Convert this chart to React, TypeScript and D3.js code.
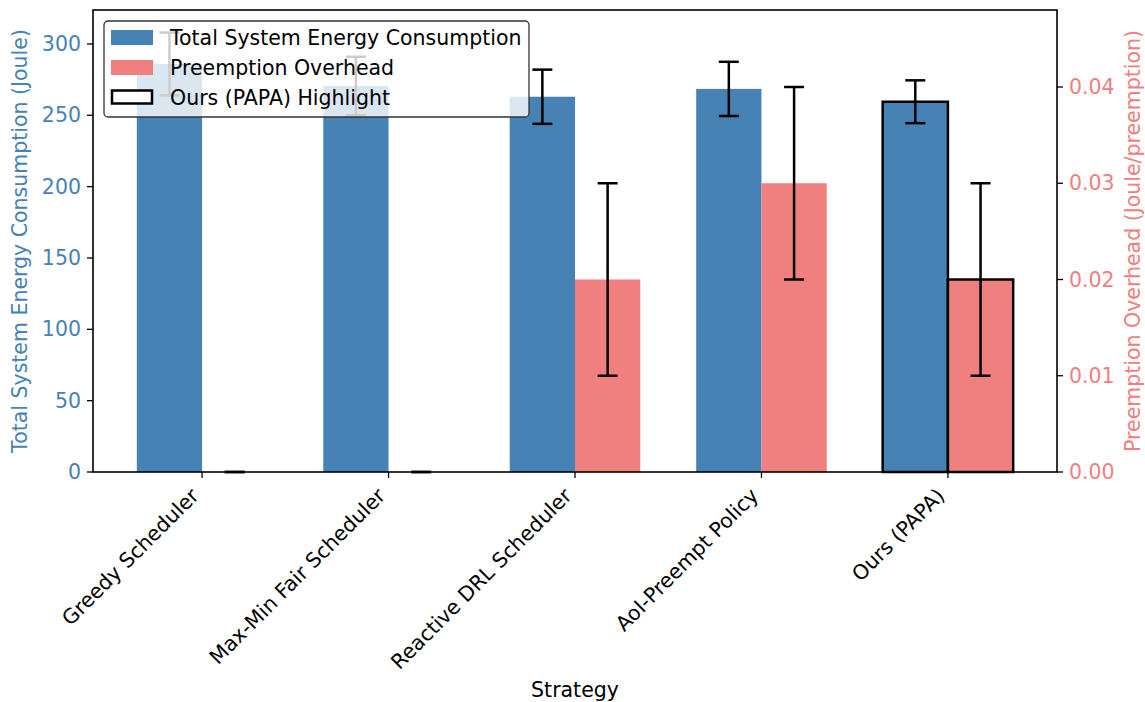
import React from "react";
import * as d3 from "d3";

const categories = ["Greedy Scheduler", "Max-Min Fair Scheduler", "Reactive DRL Scheduler", "AoI-Preempt Policy", "Ours (PAPA)"];
const energyValues = [286, 270.5, 263, 268.5, 259.5];
const energyErrors = [22, 20.5, 19, 19, 15];
const overheadValues = [0, 0, 0.02, 0.03, 0.02];
const overheadErrors = [0, 0, 0.01, 0.01, 0.01];
const leftTicks = [0, 50, 100, 150, 200, 250, 300];
const rightTicks = [0, 0.01, 0.02, 0.03, 0.04];
const highlightIndex = 4;

const W = 1145, H = 702;
const M = { left: 93, right: 1057, top: 10, bottom: 472 };
const BLUE = "#4682B4";
const RED = "#F08080";
const FONT = "DejaVu Sans, sans-serif";
const FS = 20.5;

export default function App() {
  const x = d3.scaleLinear().domain([-0.585, 4.585]).range([M.left, M.right]);
  const yL = d3.scaleLinear().domain([0, 323.8]).range([M.bottom, M.top]);
  const yR = d3.scaleLinear().domain([0, 0.048]).range([M.bottom, M.top]);
  const bw = 0.35;
  const bpx = x(bw) - x(0);
  const cap = 10;

  const errBar = (cx: number, v: number, e: number, y: d3.ScaleLinear<number, number>, key: string) => (
    <g key={key} stroke="#000" strokeWidth={2.5}>
      <line x1={cx} x2={cx} y1={y(v - e)} y2={y(v + e)} />
      <line x1={cx - cap} x2={cx + cap} y1={y(v - e)} y2={y(v - e)} />
      <line x1={cx - cap} x2={cx + cap} y1={y(v + e)} y2={y(v + e)} />
    </g>
  );

  return (
    <svg width={W} height={H} style={{ position: "absolute", left: 0, top: 0, background: "#fff" }} fontFamily={FONT}>
      {categories.map((c, i) => {
        const bx = x(i - bw / 2);
        const rx = x(i + bw / 2);
        const hl = i === highlightIndex;
        return (
          <g key={c}>
            <rect x={bx - bpx / 2} y={yL(energyValues[i])} width={bpx} height={yL(0) - yL(energyValues[i])} fill={BLUE}
              stroke={hl ? "#000" : "none"} strokeWidth={hl ? 2.5 : 0} />
            <rect x={rx - bpx / 2} y={yR(overheadValues[i])} width={bpx} height={yR(0) - yR(overheadValues[i])} fill={RED}
              stroke={hl ? "#000" : "none"} strokeWidth={hl ? 2.5 : 0} />
          </g>
        );
      })}
      {categories.map((c, i) => errBar(x(i - bw / 2), energyValues[i], energyErrors[i], yL, "eb" + i))}
      {categories.map((c, i) => errBar(x(i + bw / 2), overheadValues[i], overheadErrors[i], yR, "er" + i))}

      {/* frame */}
      <rect x={M.left} y={M.top} width={M.right - M.left} height={M.bottom - M.top} fill="none" stroke="#000" strokeWidth={1.6} />

      {/* left axis */}
      {leftTicks.map((t) => (
        <g key={"l" + t}>
          <line x1={M.left - 6} x2={M.left} y1={yL(t)} y2={yL(t)} stroke="#000" strokeWidth={1.3} />
          <text x={M.left - 12} y={yL(t)} dy="0.35em" textAnchor="end" fontSize={FS} fill={BLUE}>{t}</text>
        </g>
      ))}
      <text transform={`translate(27,${(M.top + M.bottom) / 2}) rotate(-90)`} textAnchor="middle" fontSize={FS} fill={BLUE}>
        Total System Energy Consumption (Joule)
      </text>

      {/* right axis */}
      {rightTicks.map((t) => (
        <g key={"r" + t}>
          <line x1={M.right} x2={M.right + 6} y1={yR(t)} y2={yR(t)} stroke="#000" strokeWidth={1.3} />
          <text x={M.right + 12} y={yR(t)} dy="0.35em" textAnchor="start" fontSize={FS} fill={RED}>{t.toFixed(2)}</text>
        </g>
      ))}
      <text transform={`translate(1140,${(M.top + M.bottom) / 2}) rotate(-90)`} textAnchor="middle" fontSize={FS} fill={RED}>
        Preemption Overhead (Joule/preemption)
      </text>

      {/* x axis */}
      {categories.map((c, i) => (
        <g key={"x" + i}>
          <line x1={x(i)} x2={x(i)} y1={M.bottom} y2={M.bottom + 6} stroke="#000" strokeWidth={1.3} />
          <text transform={`translate(${x(i) - 2},${M.bottom + 25}) rotate(-45)`} textAnchor="end" fontSize={FS} fill="#000">{c}</text>
        </g>
      ))}
      <text x={(M.left + M.right) / 2} y={697} textAnchor="middle" fontSize={FS} fill="#000">Strategy</text>

      {/* legend */}
      <g>
        <rect x={104} y={21} width={425} height={96} rx={4} fill="#fff" fillOpacity={0.8} stroke="#333" strokeWidth={1.3} />
        <rect x={111} y={30} width={42} height={15} fill={BLUE} />
        <text x={170} y={37.5} dy="0.35em" fontSize={FS}>Total System Energy Consumption</text>
        <rect x={111} y={60} width={42} height={15} fill={RED} />
        <text x={170} y={67.5} dy="0.35em" fontSize={FS}>Preemption Overhead</text>
        <rect x={112} y={90.5} width={40} height={13} fill="#fff" stroke="#000" strokeWidth={2.5} />
        <text x={170} y={97.5} dy="0.35em" fontSize={FS}>Ours (PAPA) Highlight</text>
      </g>
    </svg>
  );
}
